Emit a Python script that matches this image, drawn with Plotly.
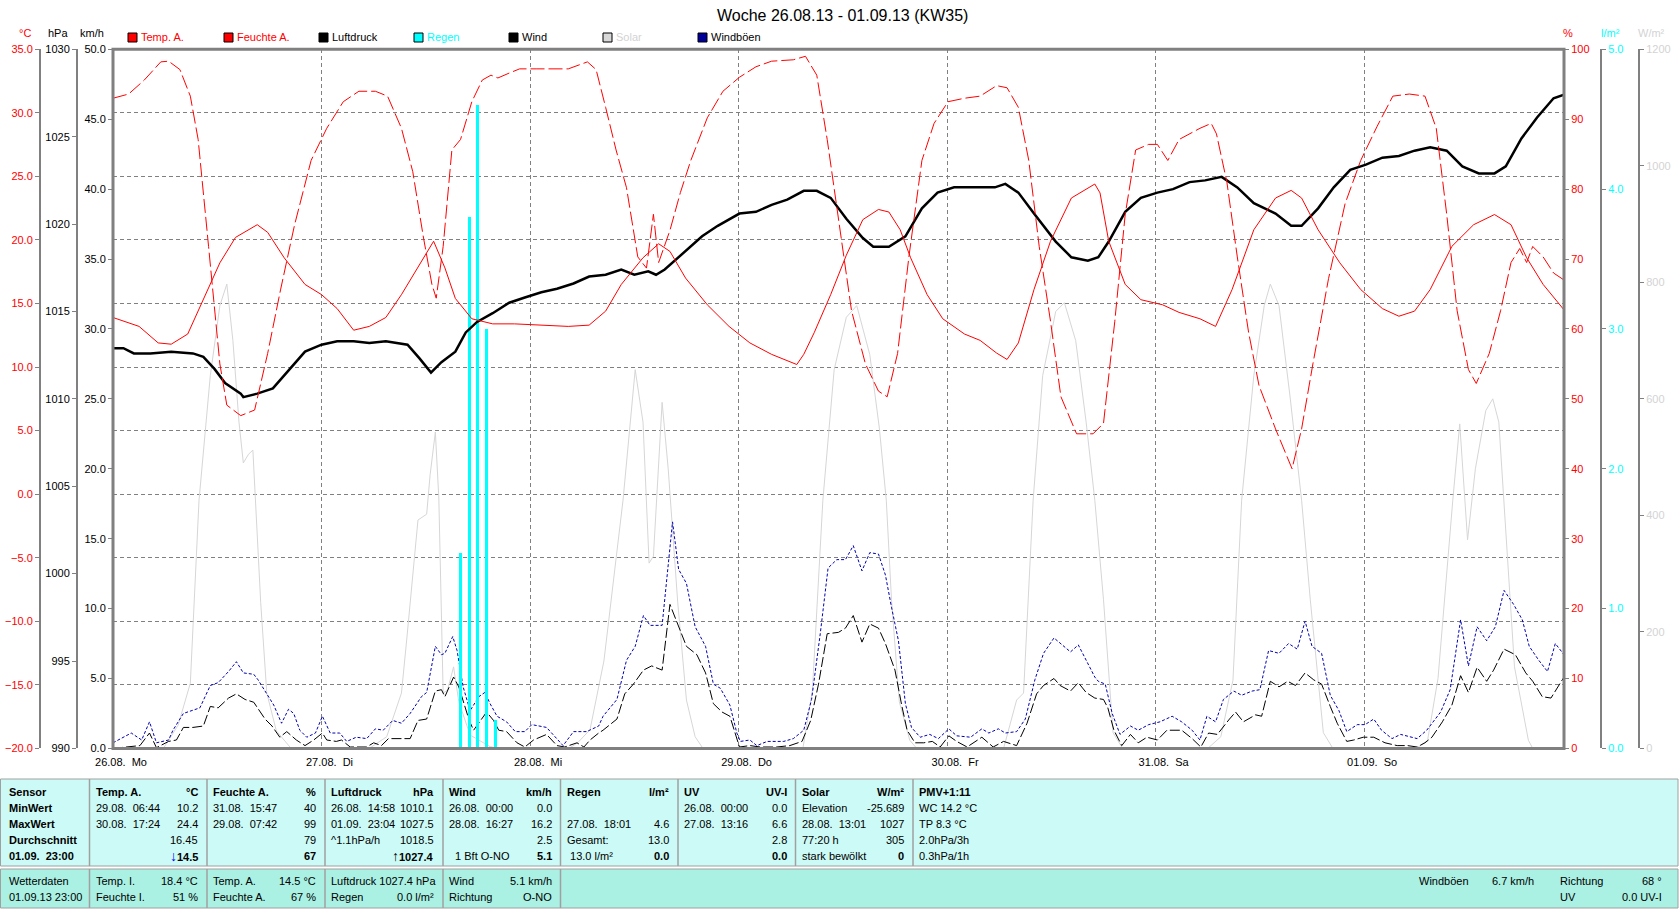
import plotly.graph_objects as go

W, H = 1680, 910
def px(x): return x / W
def py(y): return 1 - y / H

X0, X1 = 113, 1564
YT, YB = 49.3, 748.4

# ---------------- data (hours since 26.08.13 00:00) ----------------
day_ticks = [0, 24, 48, 72, 96, 120, 144]
day_labels = ["26.08.\u00a0\u00a0Mo", "27.08.\u00a0\u00a0Di", "28.08.\u00a0\u00a0Mi", "29.08.\u00a0\u00a0Do",
              "30.08.\u00a0\u00a0Fr", "31.08.\u00a0\u00a0Sa", "01.09.\u00a0\u00a0So"]

temp_h = [0, 3.0, 5.2, 6.7, 8.6, 10.4, 12.3, 14.1, 16.6, 17.8, 19.7, 22.1, 24.0, 25.8, 27.7, 29.5, 31.4, 33.2,
          35.7, 36.9, 38.2, 39.4, 41.3, 43.7, 46.2, 48.7, 52.4, 54.8, 56.7, 58.5, 61.0, 62.8, 64.1, 65.9, 68.4,
          70.9, 73.3, 75.8, 78.7, 79.5, 80.7, 82.6, 84.4, 86.3, 88.1, 89.3, 90.6, 91.8, 93.7, 95.5, 98.0, 99.8,
          101.7, 102.9, 104.2, 106.0, 107.9, 110.3, 113.0, 113.6, 114.6, 116.5, 118.3, 120.8, 122.7, 125.1,
          126.9, 128.8, 131.3, 133.8, 135.6, 136.8, 138.7, 141.2, 143.6, 146.1, 148.0, 149.8, 151.6, 154.1,
          156.6, 159.0, 160.9, 162.7, 164.6, 167.0]
temp_c = [13.9, 13.2, 11.9, 11.8, 12.6, 15.3, 18.2, 20.2, 21.2, 20.6, 18.6, 16.5, 15.7, 14.6, 12.9, 13.2, 13.9, 15.7,
          18.6, 19.9, 17.8, 15.4, 13.8, 13.4, 13.4, 13.3, 13.2, 13.3, 14.4, 16.5, 18.6, 19.7, 19.1, 17.0, 14.9,
          13.2, 11.9, 11.0, 10.2, 11.0, 12.7, 15.7, 18.8, 21.6, 22.4, 22.2, 20.8, 18.6, 15.7, 13.8, 12.6, 12.1,
          11.1, 10.6, 11.9, 16.1, 19.9, 23.3, 24.4, 23.7, 19.9, 16.5, 15.3, 14.9, 14.3, 13.8,
          13.2, 16.1, 20.8, 23.3, 23.9, 23.3, 20.8, 18.2, 16.1, 14.6, 14.0, 14.4, 16.1, 19.5,
          21.2, 22.0, 21.2, 18.6, 16.5, 14.5]

hum_h = [0, 1.8, 3.6, 5.5, 6.4, 7.7, 8.9, 9.8, 11.0, 12.3, 13.1, 14.7, 16.3, 17.8, 19.3, 20.9, 22.8, 24.6, 26.5,
         28.3, 30.2, 31.6, 33.2, 34.5, 35.7, 36.7, 37.2, 38.0, 39.0, 40.0, 41.3, 42.5, 43.5, 44.3, 45.6, 46.8,
         48.7, 52.4, 54.6, 55.6, 56.7, 57.9, 59.1, 60.4, 61.4, 62.2, 62.8, 64.1, 65.3, 66.5, 68.4, 70.2, 72.1,
         74.0, 75.8, 78.3, 79.7, 81.0, 82.2, 83.6, 85.0, 86.6, 88.1, 89.1, 90.3, 91.6, 93.1, 94.5, 96.1, 98.0,
         99.8, 101.7, 102.9, 104.2, 105.4, 106.6, 107.9, 109.1, 110.9, 112.8, 114.0, 115.3, 116.5, 117.7,
         119.2, 120.2, 121.4, 122.7, 123.9, 125.1, 126.4, 127.0, 128.2, 129.4, 130.7, 131.9, 133.8, 135.7,
         136.8, 138.1, 139.9, 141.8, 143.6, 145.5, 147.3, 149.2, 151.0, 152.3, 153.5, 154.7, 156.0, 156.9,
         158.4, 159.7, 160.9, 161.9, 162.7, 163.4, 164.6, 165.8, 167.0]
hum_pct = [93.0, 93.6, 95.6, 98.2, 98.3, 97.1, 93.3, 87.1, 71.8, 55.0, 49.1, 47.6, 48.4, 56.5, 65.7, 74.9, 84.1, 88.7,
           92.5, 94.0, 94.0, 93.3, 88.7, 82.5, 73.3, 66.4, 64.4, 71.8, 85.6, 87.1, 92.5, 95.6, 96.3, 95.9, 96.6,
           97.2, 97.2, 97.2, 98.2, 97.1, 91.7, 85.6, 80.2, 70.3, 68.7, 76.4, 69.5, 74.1, 79.5, 84.1, 90.2, 94.0,
           96.0, 97.5, 98.3, 98.5, 99.0, 96.3, 87.1, 74.9, 62.6, 55.0, 51.1, 50.3, 56.5, 70.3, 84.1, 89.4, 92.5,
           93.0, 93.3, 94.8, 94.5, 91.7, 84.1, 71.8, 61.1, 50.3, 45.0, 45.0, 46.5, 61.1, 76.4, 85.6,
           86.4, 86.4, 84.1, 87.1, 87.9, 88.7, 89.4, 87.9, 81.0, 70.3, 59.5, 51.9, 45.7, 40.0,
           45.7, 55.0, 67.2, 77.9, 84.1, 89.0, 93.3, 93.6, 93.3, 88.7, 76.4, 62.6, 54.2, 52.2,
           56.5, 62.6, 69.5, 71.5, 69.5, 71.8, 70.3, 68.0, 67.0]

press_h = [0, 1.2, 2.4, 4.3, 6.7, 9.2, 10.4, 11.7, 12.9, 14.7, 15.0, 16.6, 18.4, 20.3, 22.1, 24.0, 25.8, 27.7,
           29.5, 31.4, 33.9, 35.3, 36.6, 37.8, 39.4, 40.6, 41.9, 43.7, 45.6, 47.4, 49.3, 51.1, 53.0, 54.8, 56.7,
           58.5, 60.0, 61.6, 62.5, 63.5, 65.3, 67.8, 69.6, 72.1, 74.0, 75.8, 77.6, 79.5, 81.0, 82.6, 84.4, 86.3,
           87.5, 89.3, 91.2, 93.1, 94.9, 96.8, 99.2, 101.5, 102.7, 104.2, 106.0, 108.5, 110.3, 112.2, 113.4,
           114.6, 116.5, 118.3, 120.2, 122.0, 123.9, 125.7, 127.6, 129.4, 131.3, 133.8, 135.6, 136.8, 138.7,
           140.5, 142.4, 144.2, 146.1, 148.0, 149.8, 151.6, 153.5, 155.3, 157.2, 159.0, 160.3, 162.1, 163.9,
           165.8, 167.0]
press_hpa = [1012.9, 1012.9, 1012.6, 1012.6, 1012.7, 1012.6, 1012.4, 1011.7, 1010.9, 1010.3, 1010.1, 1010.3, 1010.6,
             1011.7, 1012.7, 1013.1, 1013.3, 1013.3, 1013.2, 1013.3, 1013.1, 1012.3, 1011.5, 1012.1, 1012.7,
             1013.8, 1014.4, 1014.9, 1015.5, 1015.8, 1016.1, 1016.3, 1016.6, 1017.0, 1017.1, 1017.4, 1017.1,
             1017.3, 1017.1, 1017.4, 1018.2, 1019.3, 1019.9, 1020.6, 1020.7, 1021.1, 1021.4, 1021.9, 1021.9,
             1021.5, 1020.3, 1019.2, 1018.7, 1018.7, 1019.3, 1020.9, 1021.8, 1022.1, 1022.1, 1022.1, 1022.3,
             1021.8, 1020.6, 1019.0, 1018.1, 1017.9, 1018.1, 1019.0, 1020.7, 1021.5, 1021.8, 1022.0, 1022.4,
             1022.5, 1022.7, 1022.1, 1021.2, 1020.6, 1019.9, 1019.9, 1020.9, 1022.1, 1023.1, 1023.4, 1023.8,
             1023.9, 1024.2, 1024.4, 1024.2, 1023.3, 1022.9, 1022.9, 1023.3, 1024.9, 1026.1, 1027.2, 1027.4]

rain_h = [40, 41, 42, 43, 44]
rain_lm2 = [1.4, 3.8, 4.6, 3.0, 0.2]

wind_h = [0, 2.0, 3.1, 4.2, 5.0, 6.4, 7.3, 8.1, 9.2, 10.4, 11.2, 12.1, 13.3, 14.2, 15.2, 16.2, 17.5, 18.3, 19.2,
          20.0, 21.1, 22.1, 23.1, 24.1, 24.6, 25.7, 26.3, 27.3, 29.2, 30.0, 30.9, 31.7, 33.0, 34.2, 35.1, 36.1,
          37.1, 37.8, 38.2, 39.2, 39.8, 41.0, 41.5, 42.3, 43.0, 43.8, 44.4, 45.3, 46.5, 47.4, 48.4, 49.9, 51.1,
          52.0, 53.4, 54.2, 54.9, 55.9, 56.4, 58.0, 58.9, 59.9, 61.05, 62.0, 63.2, 64.1, 65.0, 66.0, 67.2, 68.2,
          69.1, 70.1, 71.0, 71.8, 72.1, 73.3, 74.5, 76.4, 77.9, 79.3, 80.3, 81.2, 82.2, 83.5, 84.3, 85.2, 86.2,
          87.1, 88.1, 88.9, 90.0, 90.8, 91.4, 92.3, 93.3, 94.3, 95.2, 96.2, 97.1, 98.3, 100.0, 101.3, 102.5,
          104.0, 105.2, 106.3, 107.1, 108.3, 109.0, 110.2, 111.1, 112.0, 113.0, 114.0, 114.5, 115.2, 116.1,
          117.1, 118.0, 119.0, 120.2, 121.3, 123.0, 124.2, 125.2, 126.1, 127.1, 128.5, 129.2, 130.1, 131.5,
          132.2, 133.2, 134.2, 135.2, 136.1, 137.2, 138.2, 139.1, 140.1, 140.9, 142.0, 142.8, 143.9, 145.1,
          146.4, 147.8, 149.0, 150.1, 151.0, 151.8, 153.0, 154.1, 155.1, 156.0, 157.0, 158.1, 158.9, 160.1,
          161.4, 162.6, 163.4, 164.5, 165.5, 167.0]
wind_kmh = [0.0, 0.1, 0.2, 1.1, 0.05, 0.5, 0.6, 1.5, 1.5, 1.6, 3.0, 2.9, 3.6, 3.9, 3.5, 3.3, 2.1, 1.6, 0.8,
            1.2, 0.6, 0.2, 0.6, 1.1, 0.6, 0.5, 0.6, 0.1, 0.1, 0.4, 0.2, 0.7, 0.7, 0.7, 2.0, 2.1,
            4.1, 4.2, 3.7, 5.1, 4.4, 2.0, 1.3, 2.0, 2.6, 2.0, 1.3, 1.2, 0.4, 0.1, 0.6, 1.0, 0.2,
            0.1, 0.4, 0.1, 0.6, 1.1, 1.3, 2.1, 3.9, 4.6, 5.6, 5.9, 5.6, 10.3, 8.9, 7.3, 6.7, 5.4,
            3.2, 2.6, 2.3, 0.8, 0.1, 0.2, 0.1, 0.1, 0.2, 0.5, 2.0, 4.6, 8.2, 8.3, 8.6, 9.5, 7.6,
            8.9, 8.6, 7.5, 5.6, 3.0, 1.3, 0.4, 0.4, 0.5, 0.1, 0.9, 0.5, 0.1, 0.8, 0.1, 0.5,
            0.2, 1.8, 3.9, 4.5, 5.0, 4.5, 4.1, 4.7, 4.0, 3.6, 3.5, 2.9, 1.3, 0.2,
            1.0, 0.4, 0.8, 0.6, 1.3, 1.3, 0.7, 0.1, 1.1, 1.0, 2.1, 2.6, 1.9, 2.4,
            2.3, 4.8, 4.4, 4.8, 4.5, 5.4, 4.9, 4.6, 3.0, 1.8, 0.5, 0.6, 0.8, 0.8,
            0.4, 0.2, 0.2, 0.1, 0.4, 0.8, 1.9, 3.1, 5.2, 4.0, 5.8, 4.8, 5.6, 7.1,
            6.7, 5.4, 4.8, 3.7, 3.6, 5.1]

gust_h = [0, 2.1, 3.3, 4.2, 5.0, 6.4, 6.9, 8.1, 10.0, 11.2, 12.1, 13.3, 14.2, 15.0, 16.2, 16.7, 17.7, 18.5, 19.4,
          20.2, 20.8, 21.5, 22.3, 23.3, 24.1, 25.0, 26.1, 26.9, 28.0, 29.2, 30.2, 31.1, 32.2, 33.2, 34.2, 35.5,
          36.1, 37.1, 37.8, 38.2, 39.1, 39.6, 40.3, 41.1, 42.1, 42.8, 43.4, 44.2, 45.3, 46.3, 47.4, 48.2, 49.9,
          51.1, 51.8, 53.0, 54.5, 55.9, 56.4, 58.0, 59.1, 60.1, 61.05, 61.8, 63.2, 64.4, 65.1, 66.0, 67.0, 68.2,
          69.1, 69.9, 71.0, 71.8, 72.2, 73.3, 74.1, 75.3, 77.2, 78.3, 79.5, 80.4, 81.4, 82.3, 83.3, 84.3, 85.2,
          86.2, 87.1, 88.1, 88.9, 89.6, 90.4, 91.2, 91.9, 92.9, 94.0, 95.0, 96.2, 97.1, 98.7, 100.0, 100.8,
          101.9, 102.7, 104.0, 105.0, 106.1, 107.1, 108.3, 110.2, 111.1, 112.0, 113.0, 113.4, 114.2, 115.0,
          115.9, 117.1, 118.0, 119.2, 120.5, 121.9, 123.0, 124.2, 125.1, 125.9, 126.9, 127.8, 129.0, 129.9,
          131.1, 132.0, 133.0, 134.2, 135.3, 136.3, 137.2, 138.0, 139.1, 140.1, 141.1, 142.0, 143.2, 144.1,
          145.1, 146.0, 147.2, 148.2, 150.1, 151.2, 152.8, 153.9, 155.1, 156.0, 157.0, 158.1, 159.1, 160.1,
          161.2, 162.2, 163.0, 164.1, 165.1, 166.0, 167.0]
gust_kmh = [0.4, 1.1, 0.6, 1.9, 0.4, 0.6, 1.3, 2.5, 2.9, 4.5, 4.7, 5.5, 6.2, 5.4, 5.3, 4.9, 3.9, 3.1, 1.8,
            2.8, 2.5, 1.3, 0.8, 1.1, 2.3, 1.1, 1.1, 0.5, 0.8, 0.7, 1.4, 1.3, 2.0, 1.8, 2.5, 3.7,
            4.0, 7.3, 6.7, 6.8, 8.0, 7.0, 4.4, 2.7, 3.7, 4.0, 3.2, 2.3, 1.9, 1.2, 1.2, 1.7, 1.5,
            0.7, 0.2, 1.2, 1.2, 1.6, 2.3, 3.5, 6.3, 7.3, 9.5, 8.8, 8.8, 16.2, 12.8, 11.8, 8.7, 7.3,
            4.6, 4.3, 3.1, 1.1, 0.5, 0.6, 0.2, 0.5, 0.5, 0.7, 1.3, 3.5, 8.2, 12.9, 13.5, 13.5, 14.5,
            12.7, 14.0, 13.9, 12.4, 10.1, 7.7, 3.2, 1.5, 0.8, 1.0, 0.7, 1.4, 0.9, 0.8, 1.4, 1.1,
            1.4, 1.1, 1.2, 2.1, 4.9, 6.8, 7.9, 6.9, 7.4, 6.3, 5.1, 4.8, 4.6, 2.5,
            1.0, 1.6, 1.3, 1.7, 1.9, 2.3, 1.9, 1.3, 0.6, 2.3, 1.9, 3.5, 4.1, 3.8,
            4.1, 4.2, 7.0, 6.8, 7.5, 7.1, 9.1, 7.3, 6.8, 3.8, 2.7, 1.2, 1.7, 1.7,
            2.1, 1.3, 0.7, 1.0, 0.7, 1.3, 2.6, 4.2, 9.2, 5.9, 8.7, 7.7, 8.7, 11.3,
            10.3, 9.2, 7.3, 6.3, 5.5, 7.5, 6.7]

solar_h = [0, 5.8, 7.5, 8.9, 9.9, 11.2, 12.3, 13.1, 13.8, 14.5, 15.0, 15.6, 16.1, 16.4, 17.0, 17.7, 18.8, 20.5,
           29.5, 31.5, 33.2, 33.8, 35.1, 36.1, 36.5, 37.1, 37.5, 38.0, 38.5, 39.2, 39.8, 41.1, 43.4, 44.5,
           52.5, 53.5, 54.9, 56.5, 58.7, 60.1, 61.0, 61.7, 62.2, 63.2, 63.9, 65.0, 66.0, 67.0, 67.9,
           77.5, 79.4, 80.5, 81.7, 83.0, 84.4, 85.6, 87.1, 88.2, 89.0, 89.6, 90.5, 91.7, 92.5,
           101.5, 102.5, 104.0, 104.8, 105.9, 107.0, 108.5, 109.5, 110.8, 112.0, 113.0, 114.0, 115.1, 116.2,
           126.0, 127.5, 128.9, 129.9, 131.3, 132.5, 133.2, 134.2, 135.5, 136.8, 137.8, 139.3, 140.4,
           150.0, 151.3, 152.5, 154.2, 155.0, 155.9, 156.8, 158.0, 158.8, 159.5, 160.1, 161.3, 162.9, 163.4, 167.0]
solar_wm2 = [0, 0, 40, 112, 426, 640, 760, 797, 700, 560, 490, 505, 512, 426, 250, 95, 30, 0,
             0, 20, 95, 186, 392, 402, 470, 543, 430, 95, 100, 140, 80, 23, 3, 0,
             0, 10, 32, 150, 426, 650, 560, 318, 330, 594, 480, 250, 83, 20, 0,
             0, 0, 100, 426, 650, 740, 760, 676, 550, 426, 255, 80, 14, 0,
             0, 0, 83, 95, 426, 640, 750, 765, 700, 560, 426, 255, 27, 0,
             0, 20, 117, 426, 640, 760, 797, 760, 600, 426, 255, 27, 0,
             0, 14, 120, 426, 557, 358, 480, 580, 600, 560, 426, 140, 14, 0, 0]

# ---------------- figure ----------------
GRAY = "#808080"
FONT = "Liberation Sans"

fig = go.Figure()
fig.add_trace(go.Scatter(x=solar_h, y=solar_wm2, yaxis="y", mode="lines",
                         line=dict(color="#D6D6D6", width=1), hoverinfo="skip"))
fig.add_trace(go.Scatter(x=wind_h, y=wind_kmh, yaxis="y2", mode="lines",
                         line=dict(color="black", width=1, dash="10px,3px"), hoverinfo="skip"))
fig.add_trace(go.Scatter(x=gust_h, y=gust_kmh, yaxis="y2", mode="lines",
                         line=dict(color="#0000B0", width=1, dash="3px,2px"), hoverinfo="skip"))
fig.add_trace(go.Bar(x=rain_h, y=rain_lm2, yaxis="y3", width=0.35,
                     marker=dict(color="#00FFFF", line=dict(width=0)), hoverinfo="skip"))
fig.add_trace(go.Scatter(x=press_h, y=press_hpa, yaxis="y4", mode="lines",
                         line=dict(color="black", width=2.5), hoverinfo="skip"))
fig.add_trace(go.Scatter(x=hum_h, y=hum_pct, yaxis="y5", mode="lines",
                         line=dict(color="#FF0000", width=1, dash="14px,4px"), hoverinfo="skip"))
fig.add_trace(go.Scatter(x=temp_h, y=temp_c, yaxis="y6", mode="lines",
                         line=dict(color="#FF0000", width=1), hoverinfo="skip"))

ydom = [py(YB), py(YT)]
common = dict(domain=ydom, showgrid=False, zeroline=False, ticks="outside", ticklen=4,
              tickcolor=GRAY, tickwidth=1, fixedrange=True, automargin=False)

fig.update_layout(
    width=W, height=H, autosize=False,
    margin=dict(l=0, r=0, t=0, b=0, pad=0, autoexpand=False),
    paper_bgcolor="white", plot_bgcolor="white",
    font=dict(family=FONT, size=11, color="black"),
    showlegend=False, hovermode=False, bargap=0,
    xaxis=dict(domain=[px(X0), px(X1)], range=[0, 167], tickvals=day_ticks, ticktext=day_labels,
               showgrid=True, gridcolor=GRAY, griddash="4px,3px", gridwidth=1, automargin=False,
               zeroline=False, showline=False, ticks="", ticklabelshift=8, ticklabelstandoff=6,
               tickfont=dict(size=11, color="black"), fixedrange=True),
    yaxis=dict(**common, range=[0, 1200], dtick=200, side="right", anchor="free", position=px(1639),
               showline=True, linecolor=GRAY, linewidth=2, tickfont=dict(color="#D3D3D3")),
    yaxis2=dict(**common, range=[0, 50], dtick=5, tickformat=".1f", side="left", anchor="x",
                overlaying="y", showline=False, tickfont=dict(color="black")),
    yaxis3=dict(**common, range=[0, 5], dtick=1, tickformat=".1f", side="right", anchor="free",
                position=px(1601), overlaying="y", showline=True, linecolor=GRAY, linewidth=2,
                tickfont=dict(color="#00FFFF")),
    yaxis4=dict(**common, range=[990, 1030], dtick=5, side="left", anchor="free", position=px(77),
                overlaying="y", showline=True, linecolor=GRAY, linewidth=2, tickfont=dict(color="black")),
    yaxis5=dict(**common, range=[0, 100], dtick=10, side="right", anchor="x", overlaying="y",
                showline=False, tickfont=dict(color="#FF0000")),
    yaxis6=dict(domain=ydom, zeroline=False, ticks="outside", ticklen=4, tickcolor=GRAY, fixedrange=True,
                automargin=False,
                range=[-20, 35], dtick=5, tickformat=".1f", side="left", anchor="free", position=px(40),
                overlaying="y", showline=True, linecolor=GRAY, linewidth=2, tickfont=dict(color="#FF0000"),
                showgrid=True, gridcolor=GRAY, griddash="4px,3px", gridwidth=1),
)

shapes = []
anns = []

def text(x, y, s, anchor="left", color="black", size=11):
    anns.append(dict(x=px(x), y=py(y), xref="paper", yref="paper", text=s, showarrow=False,
                     xanchor=anchor, yanchor="middle", font=dict(family=FONT, size=size, color=color),
                     borderpad=0))

# frame
shapes.append(dict(type="rect", xref="paper", yref="paper", x0=px(X0), x1=px(X1), y0=py(YB), y1=py(YT),
                   line=dict(color=GRAY, width=3), layer="above"))

# title and unit labels
text(842, 15, "Woche 26.08.13 - 01.09.13 (KW35)", "center", size=16)
text(25, 33, "°C", "center", "#FF0000")
text(58, 33, "hPa", "center")
text(92, 33, "km/h", "center")
text(1568, 33, "%", "center", "#FF0000")
text(1610, 33, "l/m²", "center", "#00FFFF")
text(1651, 33, "W/m²", "center", "#D3D3D3")

# legend
legend = [(128, "#FF0000", "Temp. A.", "#FF0000"), (224, "#FF0000", "Feuchte A.", "#FF0000"),
          (319, "#000000", "Luftdruck", "black"), (414, "#00FFFF", "Regen", "#00FFFF"),
          (509, "#000000", "Wind", "black"), (603, "#D8D8D8", "Solar", "#D3D3D3"),
          (698, "#000099", "Windböen", "black")]
for lx, fc, lab, tc in legend:
    shapes.append(dict(type="rect", xref="paper", yref="paper", x0=px(lx), x1=px(lx + 9),
                       y0=py(42), y1=py(33), fillcolor=fc, line=dict(color="black", width=1)))
    text(lx + 12, 37.5, lab, "left", tc)

# ---------------- statistics table ----------------
TBL_BG = "#CCFAF6"
BAR_BG = "#AAF0E3"
LINE = "#A0A0A0"
shapes.append(dict(type="rect", xref="paper", yref="paper", x0=px(0.5), x1=px(1678), y0=py(866), y1=py(779),
                   fillcolor=TBL_BG, line=dict(color=LINE, width=1), layer="below"))
shapes.append(dict(type="rect", xref="paper", yref="paper", x0=px(0.5), x1=px(1678), y0=py(908), y1=py(869),
                   fillcolor=BAR_BG, line=dict(color=LINE, width=1), layer="below"))
dividers = [89.5, 207, 325, 443, 560.5, 678, 795.5, 913]
for dx in dividers:
    shapes.append(dict(type="line", xref="paper", yref="paper", x0=px(dx), x1=px(dx), y0=py(866), y1=py(779),
                       line=dict(color=LINE, width=1.5)))
for dx in dividers[:5]:
    shapes.append(dict(type="line", xref="paper", yref="paper", x0=px(dx), x1=px(dx), y0=py(908), y1=py(869),
                       line=dict(color=LINE, width=1.5)))

rows_y = [792, 808, 824, 840, 856]
sensor_col = ["<b>Sensor</b>", "<b>MinWert</b>", "<b>MaxWert</b>", "<b>Durchschnitt</b>",
              "<b>01.09.\u00a0\u00a023:00</b>"]
for yy, s in zip(rows_y, sensor_col):
    text(8, yy, s)

table_cols = [
    [("<b>Temp. A.</b>", "<b>°C</b>"), ("29.08.\u00a0\u00a006:44", "10.2"), ("30.08.\u00a0\u00a017:24", "24.4"),
     ("", "16.45"), ("", "<b><span style='color:#0000FF;font-size:14px'>↓</span>14.5</b>")],
    [("<b>Feuchte A.</b>", "<b>%</b>"), ("31.08.\u00a0\u00a015:47", "40"), ("29.08.\u00a0\u00a007:42", "99"),
     ("", "79"), ("", "<b>67</b>")],
    [("<b>Luftdruck</b>", "<b>hPa</b>"), ("26.08.\u00a0\u00a014:58", "1010.1"),
     ("01.09.\u00a0\u00a023:04", "1027.5"), ("^1.1hPa/h", "1018.5"),
     ("", "<b><span style='font-size:14px'>↑</span>1027.4</b>")],
    [("<b>Wind</b>", "<b>km/h</b>"), ("26.08.\u00a0\u00a000:00", "0.0"), ("28.08.\u00a0\u00a016:27", "16.2"),
     ("", "2.5"), ("\u00a0\u00a01 Bft O-NO", "<b>5.1</b>")],
    [("<b>Regen</b>", "<b>l/m²</b>"), ("", ""), ("27.08.\u00a0\u00a018:01", "4.6"),
     ("Gesamt:", "13.0"), ("\u00a013.0 l/m²", "<b>0.0</b>")],
    [("<b>UV</b>", "<b>UV-I</b>"), ("26.08.\u00a0\u00a000:00", "0.0"), ("27.08.\u00a0\u00a013:16", "6.6"),
     ("", "2.8"), ("", "<b>0.0</b>")],
    [("<b>Solar</b>", "<b>W/m²</b>"), ("Elevation", "-25.689"), ("28.08.\u00a0\u00a013:01", "1027"),
     ("77:20 h", "305"), ("stark bewölkt", "<b>0</b>")],
    [("<b>PMV+1:11</b>", ""), ("WC 14.2 °C", ""), ("TP 8.3 °C", ""), ("2.0hPa/3h", ""), ("0.3hPa/1h", "")],
]
for ci, col in enumerate(table_cols):
    left = dividers[ci] + 5
    right = (dividers[ci + 1] - 8) if ci + 1 < len(dividers) else 1030
    for (l, r), yy in zip(col, rows_y):
        if l:
            text(left, yy, l, "left")
        if r:
            text(right, yy, r, "right")

# current-values bar
bar_y = [881, 897]
text(8, bar_y[0], "Wetterdaten")
text(8, bar_y[1], "01.09.13 23:00")
bar_cols = [
    [("Temp. I.", "18.4 °C"), ("Feuchte I.", "51 %")],
    [("Temp. A.", "14.5 °C"), ("Feuchte A.", "67 %")],
    [("Luftdruck 1027.4 hPa", ""), ("Regen", "0.0 l/m²")],
    [("Wind", "5.1 km/h"), ("Richtung", "O-NO")],
]
for ci, col in enumerate(bar_cols):
    left = dividers[ci] + 5
    right = dividers[ci + 1] - 8
    for (l, r), yy in zip(col, bar_y):
        if l:
            text(left, yy, l, "left")
        if r:
            text(right, yy, r, "right")
text(1418, bar_y[0], "Windböen")
text(1491, bar_y[0], "6.7 km/h")
text(1559, bar_y[0], "Richtung")
text(1663, bar_y[0], "68 °", "right")
text(1559, bar_y[1], "UV")
text(1663, bar_y[1], "0.0 UV-I", "right")

fig.update_layout(shapes=shapes, annotations=anns)

fig.write_html("out.html", config={"displayModeBar": False, "staticPlot": True})
